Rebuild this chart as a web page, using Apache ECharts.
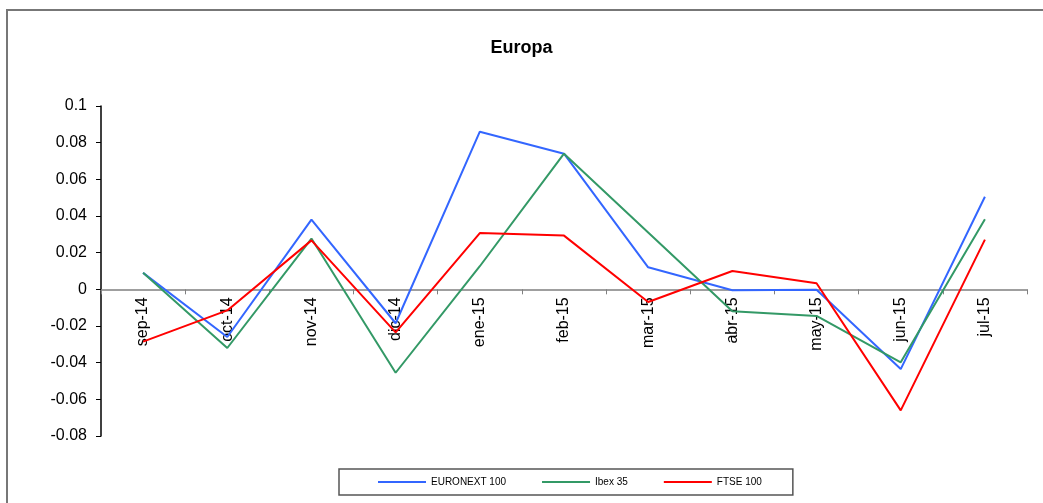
<!DOCTYPE html>
<html>
<head>
<meta charset="utf-8">
<script src="https://cdn.jsdelivr.net/npm/echarts@6/dist/echarts.min.js"></script>
<style>
  html, body { margin: 0; padding: 0; background: #fff; }
  #chart { width: 1043px; height: 503px; }
</style>
</head>
<body>
<div id="chart"></div>
<script>
// meses
var months = ['sep-14', 'oct-14', 'nov-14', 'dic-14', 'ene-15', 'feb-15', 'mar-15', 'abr-15', 'may-15', 'jun-15', 'jul-15'];

// rentabilidades mensuales
var euronext = [0.009, -0.026, 0.038, -0.0185, 0.086, 0.074, 0.012, -0.0005, -0.0002, -0.0435, 0.0505];
var ibex = [0.009, -0.032, 0.0277, -0.0455, 0.0126, 0.074, 0.031, -0.012, -0.0145, -0.0398, 0.0382];
var ftse = [-0.0285, -0.0115, 0.0267, -0.0235, 0.0307, 0.0293, -0.0069, 0.01, 0.0033, -0.066, 0.0271];

var yTicks = { min: -0.08, max: 0.1, step: 0.02 };

var gridTop = 106, gridBottom = 67, chartH = 503;

var chart = echarts.init(document.getElementById('chart'));

function serie(name, data, color) {
  return {
    name: name,
    type: 'line',
    data: data,
    symbol: 'none',
    lineStyle: { width: 2, color: color },
    itemStyle: { color: color }
  };
}

// el eje x va en el cero: se sube con offset negativo
var plotH = chartH - gridTop - gridBottom;
var zeroOffset = -plotH * (0 - yTicks.min) / (yTicks.max - yTicks.min);

var option = {
  animation: false,
  backgroundColor: '#fff',
  textStyle: { fontFamily: 'Liberation Sans, Arial, sans-serif' },
  title: {
    text: 'Europa',
    left: 'center',
    top: 34,
    textStyle: { fontSize: 18, fontWeight: 'bold', color: '#000', fontFamily: 'Liberation Sans, Arial, sans-serif' }
  },
  legend: {
    left: 339,
    top: 469,
    padding: [8, 31, 8, 39],
    itemGap: 36,
    itemWidth: 48,
    itemHeight: 12,
    borderColor: '#555',
    borderWidth: 1.5,
    icon: 'path://M0,0 L48,0 L48,2 L0,2 Z',
    textStyle: { fontSize: 10, color: '#000', fontFamily: 'Liberation Sans, Arial, sans-serif' },
    data: ['EURONEXT 100', 'Ibex 35', 'FTSE 100']
  },
  grid: { left: 101, right: 16, top: gridTop, bottom: gridBottom, containLabel: false },
  xAxis: {
    type: 'category',
    data: months,
    boundaryGap: true,
    offset: zeroOffset,
    axisLine: { onZero: false, lineStyle: { color: '#808080', width: 1.5 } },
    axisTick: { show: true, length: 5, lineStyle: { color: '#808080' } },
    axisLabel: {
      rotate: 90,
      margin: 8,
      interval: 0,
      fontSize: 16,
      color: '#000',
      fontFamily: 'Liberation Sans, Arial, sans-serif'
    },
    splitLine: { show: false }
  },
  yAxis: {
    type: 'value',
    min: yTicks.min,
    max: yTicks.max,
    interval: yTicks.step,
    axisLine: { show: true, lineStyle: { color: '#000', width: 1.5 } },
    axisTick: { show: true, length: 5, lineStyle: { color: '#000' } },
    axisLabel: {
      margin: 14,
      fontSize: 16,
      color: '#000',
      fontFamily: 'Liberation Sans, Arial, sans-serif',
      formatter: function (v) { return String(+v.toFixed(2)); }
    },
    splitLine: { show: false }
  },
  graphic: [
    {
      type: 'polyline',
      silent: true,
      shape: { points: [[7, 503], [7, 10], [1043, 10]] },
      style: { stroke: '#777', lineWidth: 2, fill: null }
    }
  ],
  series: [
    serie('EURONEXT 100', euronext, '#3366FF'),
    serie('Ibex 35', ibex, '#339966'),
    serie('FTSE 100', ftse, '#FF0000')
  ]
};

chart.setOption(option);
</script>
</body>
</html>
